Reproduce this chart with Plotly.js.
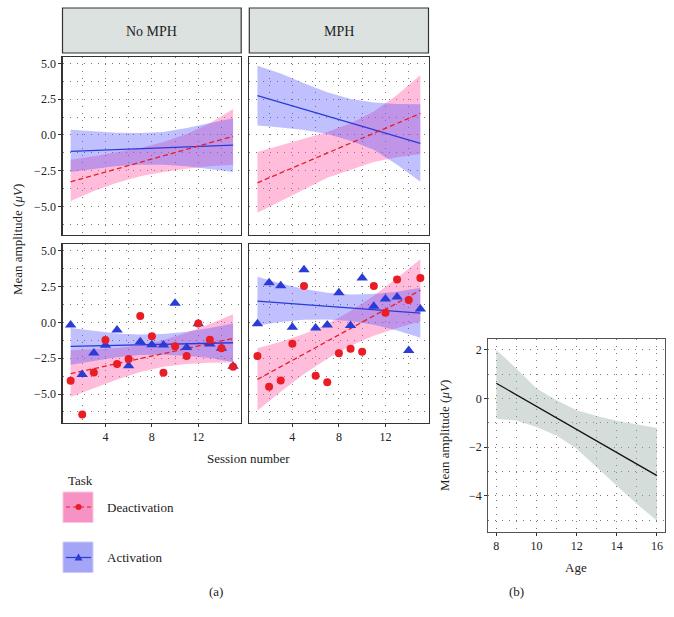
<!DOCTYPE html>
<html>
<head>
<meta charset="utf-8">
<script src="https://cdn.plot.ly/plotly-3.0.1.min.js"></script>
<style>html,body{margin:0;padding:0;background:#fff;}#chart{width:674px;height:617px;}</style>
</head>
<body>
<div id="chart"></div>
<script>
// ---------------- DATA ----------------
const sessions = [1,2,3,4,5,6,7,8,9,10,11,12,13,14,15];
const fitX = [1, 15];
const bandX = [1, 3, 5, 7, 9, 11, 13, 15];

// No MPH, top row (model fits only)
const topNoDeactFit = [-3.28, -0.10];
const topNoActFit = [-1.15, -0.71];
const topNoDeactUp = [-1.73, -1.50, -1.19, -0.92, -0.50, 0.06, 0.82, 1.82];
const topNoDeactLo = [-4.63, -3.93, -3.35, -2.89, -2.59, -2.36, -2.19, -2.08];
const topNoActUp = [0.36, 0.24, 0.15, 0.13, 0.20, 0.48, 0.82, 1.17];
const topNoActLo = [-2.59, -2.36, -2.17, -2.08, -2.08, -2.19, -2.38, -2.59];

// MPH, top row
const topMphDeactFit = [-3.35, 1.50];
const topMphActFit = [2.75, -0.59];
const topMphDeactUp = [-1.19, -0.73, -0.27, 0.20, 0.82, 1.64, 2.80, 4.19];
const topMphDeactLo = [-5.44, -4.63, -3.82, -3.00, -2.42, -1.89, -1.57, -1.33];
const topMphActUp = [4.84, 4.30, 3.61, 2.98, 2.52, 2.26, 2.17, 2.15];
const topMphActLo = [0.66, 0.52, 0.34, 0.06, -0.41, -1.03, -2.08, -3.28];

// No MPH, bottom row (observed session means + fits)
const noMphDeact = [-4.07, -6.42, -3.49, -1.23, -2.90, -2.56, 0.44, -0.96, -3.51, -1.66, -2.35, -0.08, -1.21, -1.81, -3.09];
const noMphAct = [-0.19, -3.63, -2.14, -1.60, -0.53, -3.02, -1.35, -1.56, -1.58, 1.33, -1.75, -0.10, -1.50, -1.80, -3.06];
const botNoDeactFit = [-3.58, -1.12];
const botNoActFit = [-1.67, -1.42];
const botNoDeactUp = [-1.95, -1.88, -1.79, -1.60, -1.23, -0.72, -0.12, 0.56];
const botNoDeactLo = [-5.21, -4.58, -3.98, -3.47, -3.09, -2.91, -2.81, -2.79];
const botNoActUp = [-0.40, -0.58, -0.77, -0.84, -0.81, -0.65, -0.40, -0.07];
const botNoActLo = [-2.95, -2.67, -2.44, -2.28, -2.26, -2.33, -2.49, -2.77];

// MPH, bottom row
const mphDeact = [-2.35, -4.49, -4.06, -1.49, 2.54, -3.72, -4.17, -2.16, -1.84, -2.05, 2.54, 0.67, 3.00, 1.56, 3.09];
const mphAct = [-0.09, 2.77, 2.55, -0.34, 3.68, -0.40, -0.18, 2.06, -0.22, 3.09, 1.13, 1.64, 1.78, -1.96, 0.93];
const botMphDeactFit = [-3.98, 2.24];
const botMphActFit = [1.49, 0.65];
const botMphDeactUp = [-1.81, -1.35, -0.81, -0.12, 0.79, 1.86, 3.09, 4.40];
const botMphDeactLo = [-6.14, -4.84, -3.60, -2.53, -1.63, -0.93, -0.40, 0.07];
const botMphActUp = [3.19, 2.72, 2.33, 2.07, 1.95, 1.98, 2.14, 2.42];
const botMphActLo = [-0.21, 0.02, 0.19, 0.21, 0.09, -0.16, -0.56, -1.07];

// (b) Age effect
const ageFitX = [8, 16];
const ageFit = [0.63, -3.17];
const ageBandX = [8, 9, 10, 11, 12, 13, 14, 15, 16];
const ageUp = [2.00, 1.24, 0.41, -0.07, -0.48, -0.72, -0.91, -1.05, -1.21];
const ageLo = [-0.83, -0.90, -1.17, -1.52, -2.07, -2.83, -3.59, -4.34, -5.03];

const taskNames = ["Deactivation", "Activation"];
const facetNames = ["No MPH", "MPH"];

// ---------------- STYLE ----------------
const W = 674, H = 617;
const FONT = "Liberation Serif, Times New Roman, serif";
const RED = "#ea1c24", BLUE = "#2a3bd6";
const PINK_FILL = "rgba(255,80,160,0.38)";
const BLUE_FILL = "rgba(80,80,255,0.36)";
const px = v => v / W, py = v => 1 - v / H;

function ribbon(xs, up, lo, fill, xa, ya) {
  return {type: "scatter", mode: "lines", xaxis: xa, yaxis: ya,
    x: xs.concat(xs.slice().reverse()), y: up.concat(lo.slice().reverse()),
    fill: "toself", fillcolor: fill, line: {width: 0},
    hoverinfo: "skip", showlegend: false};
}
function fitLine(xs, ys, color, dash, xa, ya) {
  return {type: "scatter", mode: "lines", xaxis: xa, yaxis: ya, x: xs, y: ys,
    line: {color: color, width: 1.3, dash: dash}, showlegend: false};
}
function pts(xs, ys, color, symbol, size, xa, ya) {
  return {type: "scatter", mode: "markers", xaxis: xa, yaxis: ya, x: xs, y: ys,
    marker: {color: color, symbol: symbol, size: size, line: {width: 0}}, showlegend: false};
}

const traces = [
  ribbon(bandX, topNoDeactUp, topNoDeactLo, PINK_FILL, "x", "y"),
  ribbon(bandX, topNoActUp, topNoActLo, BLUE_FILL, "x", "y"),
  fitLine(fitX, topNoActFit, BLUE, "solid", "x", "y"),
  fitLine(fitX, topNoDeactFit, RED, "5px,3px", "x", "y"),

  ribbon(bandX, topMphDeactUp, topMphDeactLo, PINK_FILL, "x2", "y2"),
  ribbon(bandX, topMphActUp, topMphActLo, BLUE_FILL, "x2", "y2"),
  fitLine(fitX, topMphActFit, BLUE, "solid", "x2", "y2"),
  fitLine(fitX, topMphDeactFit, RED, "5px,3px", "x2", "y2"),

  ribbon(bandX, botNoDeactUp, botNoDeactLo, PINK_FILL, "x3", "y3"),
  ribbon(bandX, botNoActUp, botNoActLo, BLUE_FILL, "x3", "y3"),
  fitLine(fitX, botNoActFit, BLUE, "solid", "x3", "y3"),
  fitLine(fitX, botNoDeactFit, RED, "5px,3px", "x3", "y3"),
  pts(sessions, noMphAct, BLUE, "triangle-up", 10, "x3", "y3"),
  pts(sessions, noMphDeact, RED, "circle", 8, "x3", "y3"),

  ribbon(bandX, botMphDeactUp, botMphDeactLo, PINK_FILL, "x4", "y4"),
  ribbon(bandX, botMphActUp, botMphActLo, BLUE_FILL, "x4", "y4"),
  fitLine(fitX, botMphActFit, BLUE, "solid", "x4", "y4"),
  fitLine(fitX, botMphDeactFit, RED, "5px,3px", "x4", "y4"),
  pts(sessions, mphAct, BLUE, "triangle-up", 10, "x4", "y4"),
  pts(sessions, mphDeact, RED, "circle", 8, "x4", "y4"),

  ribbon(ageBandX, ageUp, ageLo, "rgba(150,170,165,0.4)", "x5", "y5"),
  fitLine(ageFitX, ageFit, "#111", "solid", "x5", "y5")
];

const GRIDC = "#7a7a7a", GDASH = "1px,6px";
function axisBase(extra) {
  return Object.assign({showgrid: true, gridcolor: GRIDC, gridwidth: 1, griddash: GDASH,
    showline: true, mirror: true, linecolor: "#333", linewidth: 1.2, zeroline: false,
    ticklen: 3, tickcolor: "#333", tickfont: {family: FONT, size: 12, color: "#222"},
    fixedrange: true}, extra);
}
function xax(domain, labels, anchor) {
  return axisBase({domain: domain, anchor: anchor, range: [0.3, 15.7], tick0: 0, dtick: 4,
    minor: {tick0: 0, dtick: 2, showgrid: true, gridcolor: GRIDC, gridwidth: 1, griddash: GDASH},
    ticks: labels ? "outside" : "", showticklabels: labels});
}
function yax(domain, labels, anchor) {
  return axisBase({domain: domain, anchor: anchor, range: [-7.0, 5.47], tick0: 0, dtick: 2.5,
    tickformat: ".1f",
    minor: {tick0: 0, dtick: 1.25, showgrid: true, gridcolor: GRIDC, gridwidth: 1, griddash: GDASH},
    ticks: labels ? "outside" : "", showticklabels: labels});
}

const colL = [px(62.5), px(241.2)], colR = [px(249.3), px(428.5)];
const rowT = [py(235), py(56.7)], rowB = [py(422.7), py(244)];

const ann = (text, x, y, opts) => Object.assign({text: text, x: px(x), y: py(y), xref: "paper", yref: "paper",
  xanchor: "center", yanchor: "middle",
  showarrow: false, font: {family: FONT, size: 13, color: "#222"}}, opts || {});

const layout = {
  width: W, height: H, margin: {l: 0, r: 0, t: 0, b: 0},
  paper_bgcolor: "#fff", plot_bgcolor: "#fff", showlegend: false,
  xaxis: xax(colL, false, "y"), yaxis: yax(rowT, true, "x"),
  xaxis2: xax(colR, false, "y2"), yaxis2: yax(rowT, false, "x2"),
  xaxis3: xax(colL, true, "y3"), yaxis3: yax(rowB, true, "x3"),
  xaxis4: xax(colR, true, "y4"), yaxis4: yax(rowB, false, "x4"),
  xaxis5: axisBase({domain: [px(488.3), px(665)], anchor: "y5", range: [7.6, 16.4], tick0: 0, dtick: 2,
    minor: {tick0: 0, dtick: 1, showgrid: true, gridcolor: GRIDC, gridwidth: 1, griddash: GDASH},
    linecolor: "#555", ticks: "outside"}),
  yaxis5: axisBase({domain: [py(531.7), py(339.3)], anchor: "x5", range: [-5.48, 2.44], tick0: 0, dtick: 2,
    minor: {tick0: 0, dtick: 1, showgrid: true, gridcolor: GRIDC, gridwidth: 1, griddash: GDASH},
    linecolor: "#555", ticks: "outside"}),
  shapes: [
    {type: "rect", xref: "paper", yref: "paper", x0: px(62.5), x1: px(241.2), y0: py(53), y1: py(8),
      fillcolor: "#dce2e0", line: {color: "#333", width: 1.2}},
    {type: "rect", xref: "paper", yref: "paper", x0: px(249.3), x1: px(428.5), y0: py(53), y1: py(8),
      fillcolor: "#dce2e0", line: {color: "#333", width: 1.2}},
    {type: "rect", xref: "paper", yref: "paper", x0: px(63), x1: px(93), y0: py(522.5), y1: py(492),
      fillcolor: "#f792c4", line: {color: "#fbc6dd", width: 1}},
    {type: "line", xref: "paper", yref: "paper", x0: px(66), x1: px(91), y0: py(507), y1: py(507),
      line: {color: RED, width: 1.2, dash: "4px,3px"}},
    {type: "circle", xref: "paper", yref: "paper", x0: px(75.5), x1: px(81.5), y0: py(510), y1: py(504),
      fillcolor: RED, line: {color: RED, width: 0}},
    {type: "rect", xref: "paper", yref: "paper", x0: px(63), x1: px(93), y0: py(572.5), y1: py(542),
      fillcolor: "#a5a5f7", line: {color: "#cbcbfb", width: 1}},
    {type: "line", xref: "paper", yref: "paper", x0: px(66), x1: px(91), y0: py(557.5), y1: py(557.5),
      line: {color: BLUE, width: 1.2}},
    {type: "path", xref: "paper", yref: "paper",
      path: "M " + px(74.5) + " " + py(560.5) + " L " + px(82.5) + " " + py(560.5) + " L " + px(78.5) + " " + py(553.5) + " Z",
      fillcolor: BLUE, line: {color: BLUE, width: 0}}
  ],
  annotations: [
    ann(facetNames[0], 151.8, 31, {font: {family: FONT, size: 14, color: "#222"}}),
    ann(facetNames[1], 338.9, 31, {font: {family: FONT, size: 14, color: "#222"}}),
    ann("Session number", 248, 458),
    ann("Mean amplitude (<i>μV</i>)", 18, 240, {textangle: -90}),
    ann("Task", 66, 480, {xanchor: "left"}),
    ann(taskNames[0], 105, 507, {xanchor: "left"}),
    ann(taskNames[1], 105, 557.5, {xanchor: "left"}),
    ann("(a)", 215.5, 591),
    ann("(b)", 516, 591),
    ann("Age", 576, 567),
    ann("Mean amplitude (<i>μV</i>)", 444, 436, {textangle: -90})
  ]
};

Plotly.newPlot("chart", traces, layout, {staticPlot: true, displayModeBar: false});
</script>
</body>
</html>
